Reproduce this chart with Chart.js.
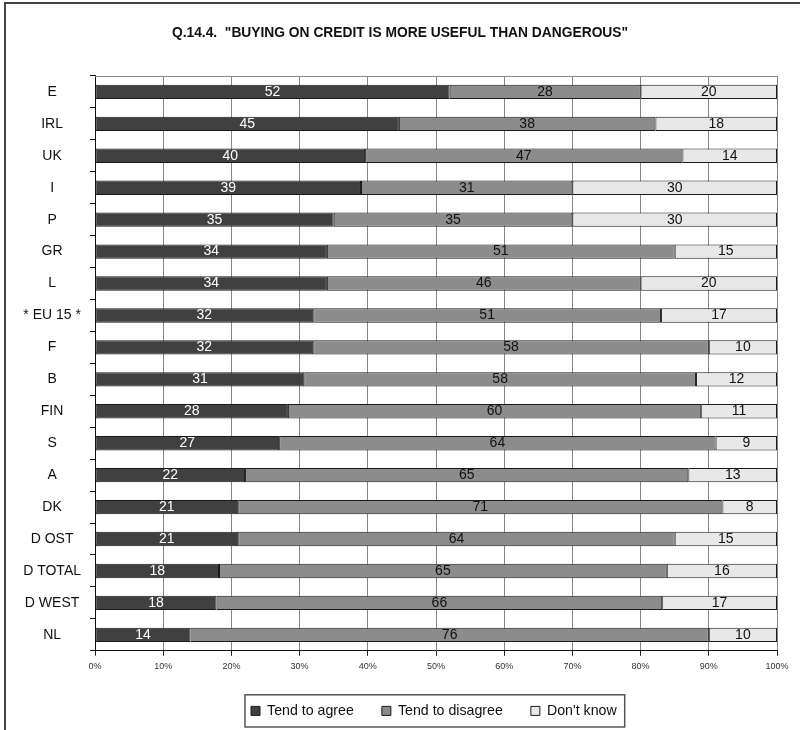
<!DOCTYPE html>
<html>
<head>
<meta charset="utf-8">
<script src="https://cdn.jsdelivr.net/npm/chart.js@4.4.1/dist/chart.umd.min.js"></script>
<style>
  html, body { margin: 0; padding: 0; background: #fff; }
  #wrap { position: relative; width: 800px; height: 730px; overflow: hidden; }
  #frame { position: absolute; left: 4px; top: 2px; width: 820px; height: 760px;
           border-left: 2px solid #444; border-top: 2px solid #444; }
  canvas { position: absolute; left: 0; top: 0; }
</style>
</head>
<body>
<div id="wrap">
  <div id="frame"></div>
  <canvas id="chart" width="800" height="730"></canvas>
</div>
<script>
// Countries, top to bottom
const countries = ['E', 'IRL', 'UK', 'I', 'P', 'GR', 'L', '* EU 15 *', 'F', 'B',
    'FIN', 'S', 'A', 'DK', 'D OST', 'D TOTAL', 'D WEST', 'NL'];

const tendToAgree    = [52, 45, 40, 39, 35, 34, 34, 32, 32, 31, 28, 27, 22, 21, 21, 18, 18, 14];
const tendToDisagree = [28, 38, 47, 31, 35, 51, 46, 51, 58, 58, 60, 64, 65, 71, 64, 65, 66, 76];
const dontKnow       = [20, 18, 14, 30, 30, 15, 20, 17, 10, 12, 11,  9, 13,  8, 15, 16, 17, 10];

const seriesNames = ['Tend to agree', 'Tend to disagree', "Don't know"];
const xTicks = [0, 10, 20, 30, 40, 50, 60, 70, 80, 90, 100];

// 100% stacked: share of each row total
function share(arr) {
    return arr.map(function(v, i) {
        const total = tendToAgree[i] + tendToDisagree[i] + dontKnow[i];
        return v / total * 100;
    });
}

const FONT = "'Liberation Sans', Arial, sans-serif";

// writes the raw value in the middle of each segment
const segmentLabels = {
    id: 'segmentLabels',
    afterDatasetsDraw: function(chart) {
        const ctx = chart.ctx;
        ctx.save();
        ctx.font = '14px ' + FONT;
        ctx.textAlign = 'center';
        ctx.textBaseline = 'middle';
        chart.data.datasets.forEach(function(ds, di) {
            const meta = chart.getDatasetMeta(di);
            meta.data.forEach(function(bar, i) {
                const p = bar.getProps(['x', 'y', 'base'], true);
                ctx.fillStyle = di === 0 ? '#ffffff' : '#111111';
                ctx.fillText(ds.raw[i], (p.x + p.base) / 2, p.y);
            });
        });
        ctx.restore();
    }
};

// grey top edge of the plot, title centred on the page, legend moved right and boxed
const frames = {
    id: 'frames',
    afterUpdate: function(chart) {
        const tb = chart.titleBlock;
        tb.left = 0;
        tb.right = 800;
        const lg = chart.legend;
        const boxes = lg.legendHitBoxes;
        if (!boxes || !boxes.length) return;
        const shift = 251 - boxes[0].left;
        lg.left += shift;
        lg.right += shift;
        boxes.forEach(function(b) { b.left += shift; });
    },
    beforeDatasetsDraw: function(chart) {
        const a = chart.chartArea;
        const ctx = chart.ctx;
        ctx.save();
        ctx.strokeStyle = '#888';
        ctx.lineWidth = 1;
        ctx.beginPath();
        ctx.moveTo(a.left, a.top + 0.5);
        ctx.lineTo(a.right, a.top + 0.5);
        ctx.stroke();
        ctx.restore();
    },
    afterDraw: function(chart) {
        const boxes = chart.legend.legendHitBoxes;
        if (!boxes || !boxes.length) return;
        const first = boxes[0];
        const last = boxes[boxes.length - 1];
        const ctx = chart.ctx;
        ctx.save();
        ctx.strokeStyle = '#555';
        ctx.lineWidth = 1.5;
        ctx.strokeRect(first.left - 6, first.top - 9, last.left + last.width - first.left + 14, first.height + 18);
        ctx.restore();
    }
};

const ctx = document.getElementById('chart').getContext('2d');
const chart = new Chart(ctx, {
    type: 'bar',
    data: {
        labels: countries,
        datasets: [
            { label: seriesNames[0], data: share(tendToAgree), raw: tendToAgree, backgroundColor: '#404040' },
            { label: seriesNames[1], data: share(tendToDisagree), raw: tendToDisagree, backgroundColor: '#8c8c8c' },
            { label: seriesNames[2], data: share(dontKnow), raw: dontKnow, backgroundColor: '#e8e8e8' }
        ].map(function(d) {
            d.borderColor = '#1a1a1a';
            d.borderWidth = 1;
            d.borderSkipped = false;
            d.barPercentage = 0.45;
            d.categoryPercentage = 1;
            return d;
        })
    },
    options: {
        indexAxis: 'y',
        responsive: false,
        animation: false,
        layout: { padding: { left: 5, right: 23, top: 0, bottom: 2 } },
        scales: {
            x: {
                stacked: true,
                min: 0,
                max: 100,
                afterBuildTicks: function(scale) {
                    scale.ticks = xTicks.map(function(v) { return { value: v }; });
                },
                afterFit: function(scale) { scale.height = 25; },
                ticks: {
                    callback: function(v) { return v + '%'; },
                    font: { family: FONT, size: 9 },
                    color: '#333',
                    padding: 5,
                    maxRotation: 0
                },
                grid: { color: '#888', tickColor: '#222', tickLength: 5, lineWidth: 1 },
                border: { color: '#111', width: 1 }
            },
            y: {
                stacked: true,
                afterFit: function(scale) { scale.width = 90; },
                ticks: {
                    font: { family: FONT, size: 14 },
                    color: '#111',
                    crossAlign: 'center',
                    padding: 9
                },
                grid: { drawOnChartArea: false, tickLength: 5, color: '#111' },
                border: { color: '#111', width: 1 }
            }
        },
        plugins: {
            title: {
                display: true,
                text: 'Q.14.4.  "BUYING ON CREDIT IS MORE USEFUL THAN DANGEROUS"',
                font: { family: FONT, size: 13.8, weight: 'bold' },
                color: '#111',
                padding: { top: 24.7, bottom: 34.7 }
            },
            legend: {
                position: 'bottom',
                labels: {
                    font: { family: FONT, size: 14.2 },
                    color: '#111',
                    boxWidth: 9,
                    boxHeight: 9,
                    padding: 28
                }
            },
            tooltip: { enabled: false }
        }
    },
    plugins: [segmentLabels, frames]
});
</script>
</body>
</html>
